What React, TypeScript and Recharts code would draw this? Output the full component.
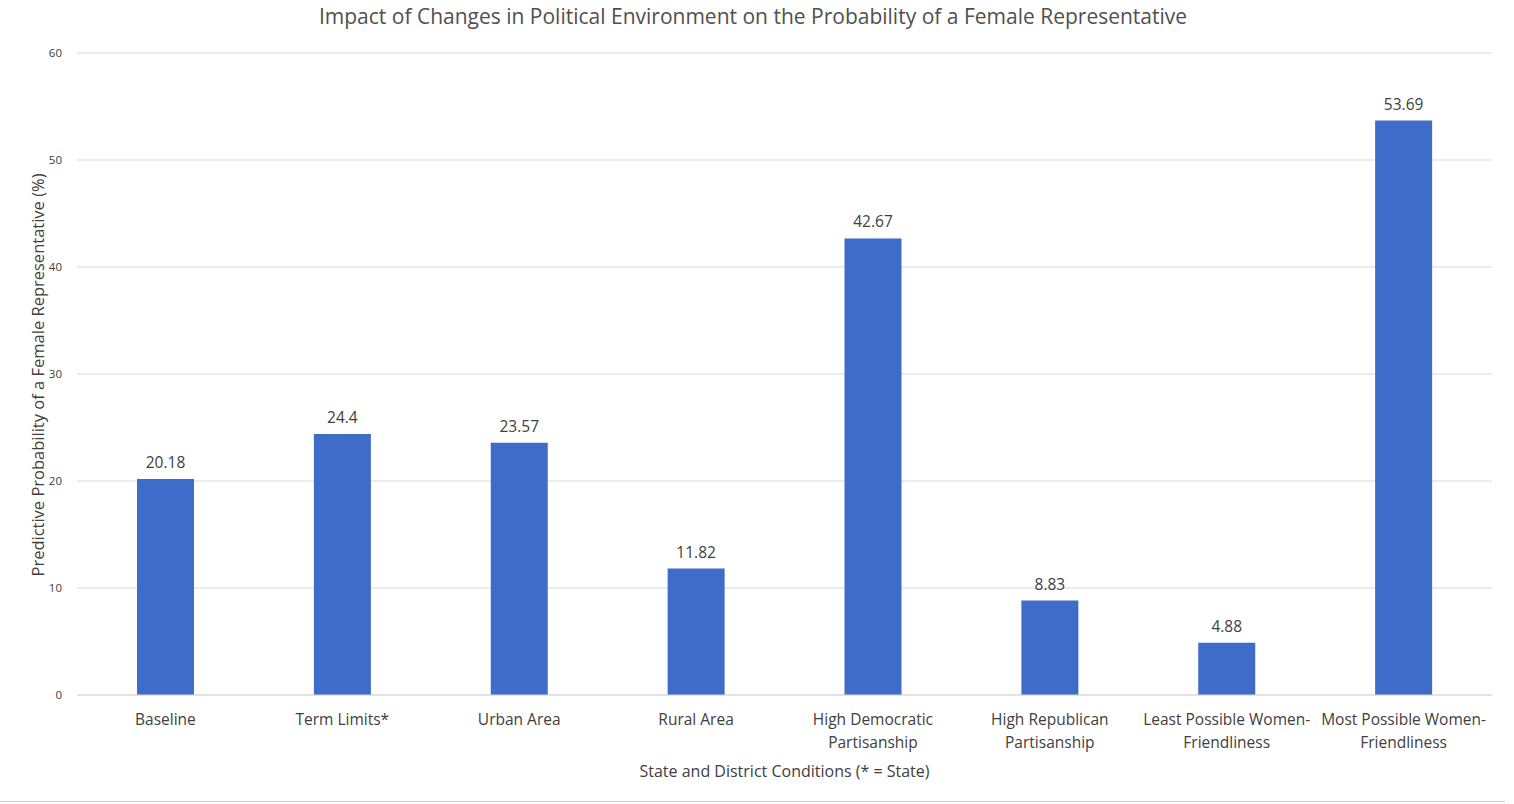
import { BarChart, Bar, XAxis, YAxis, CartesianGrid, LabelList } from 'recharts';

const BAR = '#3F6BC9';
const TEXT = '#404040';
const FONT = '"Open Sans", "Liberation Sans", sans-serif';

// categories, "\n" marks where the label wraps
const categories = [
  'Baseline',
  'Term Limits*',
  'Urban Area',
  'Rural Area',
  'High Democratic\nPartisanship',
  'High Republican\nPartisanship',
  'Least Possible Women-\nFriendliness',
  'Most Possible Women-\nFriendliness',
];
const probability = [20.18, 24.4, 23.57, 11.82, 42.67, 8.83, 4.88, 53.69];
const yTicks = [0, 10, 20, 30, 40, 50, 60];

const data = categories.map((name, i) => ({ name, value: probability[i] }));

function CategoryTick({ x, y, payload }: any) {
  const lines = String(payload.value).split('\n');
  return (
    <text x={x} y={y} textAnchor="middle" fill={TEXT} fontSize={15.5} fontFamily={FONT}>
      {lines.map((l, i) => (
        <tspan key={i} x={x} dy={i === 0 ? 22 : 23}>
          {l}
        </tspan>
      ))}
    </text>
  );
}

export default function App() {
  return (
    <div style={{ position: 'absolute', left: 0, top: 0, width: 1514, height: 804, background: '#fff' }}>
      <div
        style={{
          position: 'absolute',
          top: 2,
          left: 0,
          width: 1506,
          textAlign: 'center',
          fontFamily: FONT,
          fontSize: 21,
          color: '#505050',
        }}
      >
        Impact of Changes in Political Environment on the Probability of a Female Representative
      </div>
      <BarChart
        width={1514}
        height={804}
        data={data}
        margin={{ top: 53, right: 22, bottom: 49, left: 0 }}
        barCategoryGap={0}
      >
        <CartesianGrid vertical={false} stroke="#D9D9D9" strokeWidth={1.2} />
        <XAxis
          dataKey="name"
          interval={0}
          height={60}
          tickLine={false}
          axisLine={{ stroke: '#D9D9D9', strokeWidth: 1.2 }}
          tick={<CategoryTick />}
        />
        <YAxis
          width={77}
          domain={[0, 60]}
          ticks={yTicks}
          axisLine={false}
          tickLine={false}
          tickMargin={9}
          tick={{ fill: TEXT, fontSize: 11.5, fontFamily: FONT }}
        />
        <Bar dataKey="value" fill={BAR} barSize={57} isAnimationActive={false}>
          <LabelList
            dataKey="value"
            position="top"
            offset={11}
            fill={TEXT}
            fontSize={15.5}
            fontFamily={FONT}
          />
        </Bar>
      </BarChart>
      <div
        style={{
          position: 'absolute',
          top: 760,
          left: 77,
          width: 1415,
          textAlign: 'center',
          fontFamily: FONT,
          fontSize: 16,
          color: TEXT,
        }}
      >
        State and District Conditions (* = State)
      </div>
      <div
        style={{
          position: 'absolute',
          left: 37,
          top: 375,
          transform: 'translate(-50%, -50%) rotate(-90deg)',
          whiteSpace: 'nowrap',
          fontFamily: FONT,
          fontSize: 16.5,
          color: TEXT,
        }}
      >
        Predictive Probability of a Female Representative (%)
      </div>
      <div
        style={{
          position: 'absolute',
          left: 0,
          top: 801,
          width: 1505,
          borderTop: '1px solid #C8C8C8',
        }}
      />
    </div>
  );
}
